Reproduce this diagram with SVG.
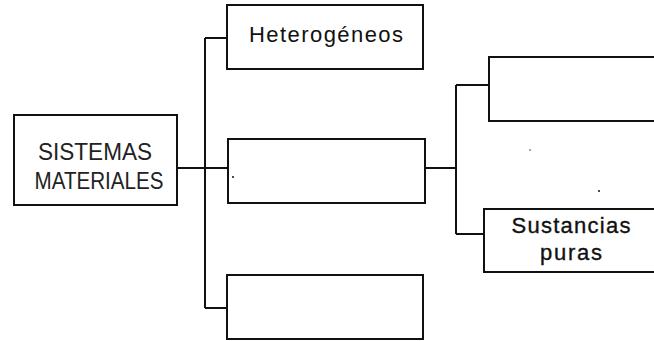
<svg xmlns="http://www.w3.org/2000/svg" width="654" height="341" viewBox="0 0 654 341">
<style>
.box{fill:#fff;stroke:#111;stroke-width:2}
.ln{fill:none;stroke:#111;stroke-width:2}
.t{font-family:"Liberation Sans",Arial,sans-serif;fill:#111;text-anchor:middle}
.light{font-size:23px;fill:#222}
.reg{font-size:22px}
.med{font-size:22px;stroke:#111;stroke-width:0.35}
</style>
<rect width="654" height="341" fill="#fff"/>
<g id="connectors">
<path class="ln" d="M177 168 H228"/>
<path class="ln" d="M205 38 V308"/>
<path class="ln" d="M205 38 H227"/>
<path class="ln" d="M205 308 H227"/>
<path class="ln" d="M425 168 H456"/>
<path class="ln" d="M456 85 V234"/>
<path class="ln" d="M456 85 H489"/>
<path class="ln" d="M456 234 H484"/>
</g>
<g id="sistemas">
<rect class="box" x="14" y="115" width="163" height="90"/>
<text class="t light" x="95" y="160" textLength="114" lengthAdjust="spacingAndGlyphs">SISTEMAS</text>
<text class="t light" x="99" y="189" textLength="129" lengthAdjust="spacingAndGlyphs">MATERIALES</text>
</g>
<g id="heterogeneos">
<rect class="box" x="227" y="5" width="196" height="64"/>
<text class="t reg" x="326" y="42" textLength="154" lengthAdjust="spacing">Heterogéneos</text>
</g>
<g id="middle">
<rect class="box" x="228" y="139" width="197" height="64"/>
<circle cx="233" cy="177" r="1" fill="#111"/>
</g>
<g id="bottom">
<rect class="box" x="227" y="275" width="196" height="64"/>
</g>
<g id="topright">
<rect class="box" x="489" y="57" width="175" height="64"/>
</g>
<g id="sustancias">
<rect class="box" x="484" y="209" width="180" height="63"/>
<text class="t med" x="571" y="233" textLength="119" lengthAdjust="spacing">Sustancias</text>
<text class="t med" x="571" y="260" textLength="62" lengthAdjust="spacing">puras</text>
</g>
<circle cx="530" cy="150" r="0.8" fill="#333"/>
<circle cx="599" cy="191" r="1" fill="#111"/>
</svg>
